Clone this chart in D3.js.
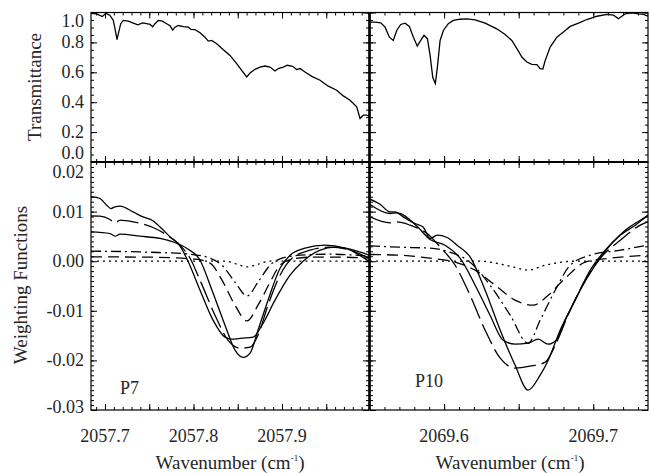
<!DOCTYPE html>
<html><head><meta charset="utf-8">
<script src="https://cdn.jsdelivr.net/npm/d3@7"></script>
<style>
body{margin:0;background:#fff}
svg text{font-family:"Liberation Serif","Times New Roman",Times,"DejaVu Serif",serif;fill:#262626}
</style></head>
<body>
<svg id="c" width="650" height="473"></svg>
<script>
// ---------------- DATA ----------------
const panelLabels = ["P7", "P10"];
const xTickLabelsL = [2057.7, 2057.8, 2057.9];
const xTickLabelsR = [2069.6, 2069.7];
const yTickLabelsT = [0.0, 0.2, 0.4, 0.6, 0.8, 1.0];
const yTickLabelsB = [-0.03, -0.02, -0.01, 0.00, 0.01, 0.02];

// Transmittance, P7
const transL_x = [2057.6842,2057.6906,2057.6970,2057.7011,2057.7057,2057.7094,2057.7117,2057.7136,2057.7155,2057.7178,2057.7207,2057.7263,2057.7320,2057.7370,2057.7426,2057.7471,2057.7509,2057.7539,2057.7565,2057.7602,2057.7648,2057.7697,2057.7735,2057.7765,2057.7791,2057.7828,2057.7885,2057.7941,2057.7972,2057.8017,2057.8074,2057.8130,2057.8167,2057.8206,2057.8262,2057.8337,2057.8413,2057.8488,2057.8545,2057.8601,2057.8639,2057.8695,2057.8752,2057.8808,2057.8865,2057.8921,2057.8958,2057.9015,2057.9060,2057.9121,2057.9166,2057.9204,2057.9260,2057.9336,2057.9430,2057.9523,2057.9618,2057.9693,2057.9769,2057.9844,2057.9882,2057.9919,2057.9957,2057.9983];
const transL_y = [0.995,0.991,0.973,0.995,0.980,0.947,0.880,0.818,0.869,0.925,0.947,0.942,0.929,0.918,0.931,0.925,0.920,0.905,0.925,0.947,0.942,0.925,0.911,0.882,0.902,0.913,0.905,0.902,0.887,0.885,0.865,0.835,0.809,0.813,0.791,0.751,0.713,0.658,0.613,0.569,0.595,0.620,0.635,0.642,0.635,0.609,0.625,0.635,0.647,0.640,0.618,0.625,0.602,0.573,0.547,0.507,0.480,0.442,0.413,0.369,0.291,0.313,0.313,0.307];

// Transmittance, P10
const transR_x = [2069.5503,2069.5537,2069.5575,2069.5604,2069.5633,2069.5659,2069.5682,2069.5709,2069.5738,2069.5767,2069.5794,2069.5820,2069.5843,2069.5865,2069.5888,2069.5906,2069.5924,2069.5941,2069.5955,2069.5973,2069.5995,2069.6028,2069.6062,2069.6107,2069.6152,2069.6208,2069.6275,2069.6353,2069.6409,2069.6454,2069.6488,2069.6521,2069.6555,2069.6588,2069.6622,2069.6644,2069.6662,2069.6678,2069.6711,2069.6756,2069.6800,2069.6845,2069.6901,2069.6957,2069.7025,2069.7092,2069.7136,2069.7169,2069.7214,2069.7259,2069.7304,2069.7337,2069.7367];
const transR_y = [0.935,0.935,0.931,0.902,0.835,0.813,0.880,0.920,0.929,0.907,0.835,0.775,0.813,0.847,0.825,0.713,0.565,0.525,0.635,0.813,0.880,0.925,0.947,0.955,0.958,0.951,0.929,0.891,0.853,0.813,0.758,0.702,0.669,0.653,0.651,0.625,0.622,0.680,0.769,0.835,0.869,0.907,0.929,0.953,0.975,0.987,0.982,0.958,0.991,0.998,0.991,0.987,0.975];

// Weighting functions, P7
const wL1_x = [2057.6842,2057.6944,2057.7019,2057.7068,2057.7113,2057.7170,2057.7317,2057.7430,2057.7531,2057.7622,2057.7735,2057.7848,2057.7938,2057.8074,2057.8221,2057.8356,2057.8435,2057.8548,2057.8673,2057.8774,2057.8921,2057.9091,2057.9238,2057.9430,2057.9599,2057.9769,2057.9983];
const wL1_y = [0.0130,0.01264,0.01129,0.01062,0.01095,0.01109,0.00994,0.00893,0.00827,0.00691,0.0049,0.00302,0,-0.00585,-0.01189,-0.01532,-0.01572,-0.01552,-0.01532,-0.0129,-0.00786,-0.00282,0,0.00222,0.00282,0.00242,0.00121];
const wL2_x = [2057.6842,2057.6944,2057.7057,2057.7113,2057.7170,2057.7317,2057.7543,2057.7701,2057.7848,2057.7961,2057.8074,2057.8243,2057.8390,2057.8526,2057.8639,2057.8729,2057.8842,2057.8978,2057.9113,2057.9317,2057.9543,2057.9769,2057.9983];
const wL2_y = [0.00913,0.00907,0.00841,0.00772,0.00827,0.00792,0.00679,0.00524,0.00323,0.0006,-0.00383,-0.01089,-0.01593,-0.01754,-0.01734,-0.01492,-0.00887,-0.00282,0.0006,0.00222,0.00282,0.00222,0.0006];
const wL3_x = [2057.6842,2057.7057,2057.7113,2057.7170,2057.7396,2057.7622,2057.7769,2057.7927,2057.8074,2057.8209,2057.8356,2057.8469,2057.8560,2057.8639,2057.8729,2057.8842,2057.8978,2057.9091,2057.9260,2057.9486,2057.9712,2057.9983];
const wL3_y = [0.00591,0.00558,0.00504,0.00544,0.00504,0.00458,0.00389,0.00256,0.0002,-0.00585,-0.0129,-0.01794,-0.01941,-0.01855,-0.01391,-0.00786,-0.00141,0.00121,0.00262,0.00323,0.00262,0];
const wL4_x = [2057.6842,2057.7509,2057.7961,2057.8187,2057.8322,2057.8469,2057.8605,2057.8729,2057.8865,2057.9000,2057.9204,2057.9543,2057.9983];
const wL4_y = [0.00202,0.00181,0.00141,0.0006,-0.00081,-0.00423,-0.0070,-0.00423,-0.00081,0.0006,0.00121,0.00141,0.00101];
const wL5_x = [2057.6842,2057.7509,2057.8017,2057.8187,2057.8322,2057.8469,2057.8605,2057.8729,2057.8865,2057.8978,2057.9113,2057.9317,2057.9656,2057.9983];
const wL5_y = [0.00087,0.00081,0.0004,-0.0004,-0.00383,-0.00887,-0.01204,-0.00887,-0.00423,-0.00081,0.0004,0.00081,0.00081,0.0006];
const wL6_x = [2057.6842,2057.8356,2057.8526,2057.8605,2057.8695,2057.8865,2057.9983];
const wL6_y = [0,0,-0.00081,-0.00115,-0.00081,0,0];

// Weighting functions, P10
const wR1_x = [2069.5503,2069.5570,2069.5637,2069.5671,2069.5725,2069.5805,2069.5859,2069.5906,2069.5953,2069.6020,2069.6087,2069.6174,2069.6275,2069.6376,2069.6476,2069.6563,2069.6644,2069.6698,2069.6778,2069.6879,2069.6980,2069.7080,2069.7181,2069.7282,2069.7367];
const wR1_y = [0.0125,0.01149,0.00994,0.00994,0.00893,0.0076,0.00691,0.00458,0.00524,0.00478,0.00323,0.00087,-0.00585,-0.01391,-0.02097,-0.026,-0.02298,-0.01996,-0.01391,-0.00786,-0.00181,0.00222,0.00524,0.00726,0.00927];
const wR2_x = [2069.5503,2069.5637,2069.5684,2069.5818,2069.5906,2069.6006,2069.6107,2069.6208,2069.6308,2069.6396,2069.6476,2069.6563,2069.6631,2069.6698,2069.6751,2069.6812,2069.6912,2069.7013,2069.7114,2069.7214,2069.7315,2069.7367];
const wR2_y = [0.01143,0.00962,0.00974,0.00706,0.00437,0.00323,0.0006,-0.00484,-0.01089,-0.01593,-0.01673,-0.01653,-0.01572,-0.01673,-0.01593,-0.01189,-0.00585,-0.00081,0.00323,0.00625,0.00827,0.00927];
const wR3_x = [2069.5503,2069.5637,2069.5684,2069.5772,2069.5886,2069.5973,2069.6074,2069.6174,2069.6275,2069.6376,2069.6476,2069.6577,2069.6678,2069.6745,2069.6845,2069.6946,2069.7047,2069.7181,2069.7315,2069.7367];
const wR3_y = [0.00893,0.00772,0.00792,0.00726,0.00558,0.00288,-0.00081,-0.00685,-0.01391,-0.01956,-0.02157,-0.02117,-0.02036,-0.01693,-0.00988,-0.00383,0.0006,0.00423,0.00726,0.00792];
const wR4_x = [2069.5503,2069.5704,2069.5906,2069.6040,2069.6174,2069.6308,2069.6443,2069.6563,2069.6644,2069.6745,2069.6845,2069.6980,2069.7181,2069.7367];
const wR4_y = [0.00308,0.00282,0.00262,0.00181,-0.0002,-0.00484,-0.01089,-0.01653,-0.01189,-0.00585,-0.00081,0.00121,0.00222,0.00323];
const wR5_x = [2069.5503,2069.5704,2069.5906,2069.6074,2069.6208,2069.6342,2069.6476,2069.6597,2069.6698,2069.6812,2069.6946,2069.7114,2069.7367];
const wR5_y = [0.00135,0.00121,0.0006,-0.0002,-0.00181,-0.00484,-0.00786,-0.00887,-0.00685,-0.00343,-0.0002,0.0006,0.00121];
const wR6_x = [2069.5503,2069.6241,2069.6443,2069.6563,2069.6678,2069.6879,2069.7367];
const wR6_y = [0,0,-0.00101,-0.00181,-0.00081,0,0];

// --------------- DRAWING ---------------
const svg = d3.select("#c");

const xL = d3.scaleLinear().domain([2057.6842, 2057.9983]).range([91, 369]);
const xR = d3.scaleLinear().domain([2069.5503, 2069.7367]).range([370, 648]);
const yT = d3.scaleLinear().domain([0, 1.0]).range([162, 12.5]);
const yB = d3.scaleLinear().domain([-0.03, 0.02]).range([410, 162]);

const styles = {
  solid: null,
  longdash: "22,6",
  dashdot: "10,4,2,4",
  dash: "11,6",
  dot: "2,4"
};

function zip(xs, ys) { return xs.map((x, i) => [x, ys[i]]); }

function drawLine(g, xs, ys, xS, yS, dash, curve) {
  const line = d3.line().x(d => xS(d[0])).y(d => yS(d[1])).curve(curve || d3.curveMonotoneX);
  g.append("path").datum(zip(xs, ys))
    .attr("d", line).attr("fill", "none").attr("stroke", "#000")
    .attr("stroke-width", 1.3).attr("stroke-dasharray", dash);
}

const clipDefs = svg.append("defs");
function clip(id, x0, y0, x1, y1) {
  clipDefs.append("clipPath").attr("id", id).append("rect")
    .attr("x", x0).attr("y", y0).attr("width", x1 - x0).attr("height", y1 - y0);
  return svg.append("g").attr("clip-path", `url(#${id})`);
}

const gTL = clip("ctl", 91, 12.5, 369, 162);
const gTR = clip("ctr", 370, 12.5, 648, 162);
const gBL = clip("cbl", 91, 162, 369, 410);
const gBR = clip("cbr", 370, 162, 648, 410);

drawLine(gTL, transL_x, transL_y, xL, yT, null, d3.curveLinear);
drawLine(gTR, transR_x, transR_y, xR, yT, null, d3.curveLinear);

const wL = [[wL1_x, wL1_y, "solid"], [wL2_x, wL2_y, "longdash"], [wL3_x, wL3_y, "solid"], [wL4_x, wL4_y, "dashdot"], [wL5_x, wL5_y, "dash"], [wL6_x, wL6_y, "dot"]];
const wR = [[wR1_x, wR1_y, "solid"], [wR2_x, wR2_y, "solid"], [wR3_x, wR3_y, "longdash"], [wR4_x, wR4_y, "dashdot"], [wR5_x, wR5_y, "dash"], [wR6_x, wR6_y, "dot"]];
wL.forEach(s => drawLine(gBL, s[0], s[1], xL, yB, styles[s[2]]));
wR.forEach(s => drawLine(gBR, s[0], s[1], xR, yB, styles[s[2]]));

// axes (ticks inward on all sides)
function rng(a, b, step) { const out = []; for (let v = a; v <= b + step * 1e-6; v += step) out.push(+v.toFixed(6)); return out; }

function frameAxes(xS, yS, xMajor, xMinor, yMajor, yMinor) {
  const [x0, x1] = xS.range(); const [y0, y1] = yS.range();
  const g = svg.append("g");
  const ax = (axis, tx, ty) => {
    const a = g.append("g").attr("transform", `translate(${tx},${ty})`).call(axis);
    a.selectAll("text").remove(); a.select(".domain").remove();
    a.selectAll("line").attr("stroke", "#000").attr("stroke-width", 1);
  };
  const mk = (fn, s, vals, size) => fn(s).tickValues(vals).tickSize(size).tickSizeOuter(0);
  ax(mk(d3.axisBottom, xS, xMajor, -6), 0, y0); ax(mk(d3.axisBottom, xS, xMinor, -3), 0, y0);
  ax(mk(d3.axisTop, xS, xMajor, -6), 0, y1); ax(mk(d3.axisTop, xS, xMinor, -3), 0, y1);
  ax(mk(d3.axisLeft, yS, yMajor, -6), x0, 0); ax(mk(d3.axisLeft, yS, yMinor, -3), x0, 0);
  ax(mk(d3.axisRight, yS, yMajor, -6), x1, 0); ax(mk(d3.axisRight, yS, yMinor, -3), x1, 0);
  g.append("rect").attr("x", x0).attr("y", y1).attr("width", x1 - x0).attr("height", y0 - y1)
    .attr("fill", "none").attr("stroke", "#000").attr("stroke-width", 1.2);
}

const xLmaj = rng(2057.70, 2057.95, 0.05), xLmin = rng(2057.69, 2057.99, 0.01);
const xRmaj = rng(2069.60, 2069.70, 0.05), xRmin = rng(2069.56, 2069.73, 0.01);
const yTmaj = rng(0, 1.0, 0.2), yTmin = rng(0, 1.0, 0.05);
const yBmaj = rng(-0.03, 0.02, 0.01), yBmin = rng(-0.03, 0.02, 0.001);

frameAxes(xL, yT, xLmaj, xLmin, yTmaj, yTmin);
frameAxes(xR, yT, xRmaj, xRmin, yTmaj, yTmin);
frameAxes(xL, yB, xLmaj, xLmin, yBmaj, yBmin);
frameAxes(xR, yB, xRmaj, xRmin, yBmaj, yBmin);

svg.append("line").attr("x1", 91).attr("x2", 648).attr("y1", 162).attr("y2", 162).attr("stroke", "#000").attr("stroke-width", 2.2);
svg.append("line").attr("x1", 369.5).attr("x2", 369.5).attr("y1", 12.5).attr("y2", 410).attr("stroke", "#000").attr("stroke-width", 2.2);

// text helpers
const txt = (x, y, s, anchor, size) => svg.append("text").attr("x", x).attr("y", y).text(s)
  .attr("text-anchor", anchor || "end").attr("font-size", size || 18);

yTickLabelsT.forEach(v => {
  let dy = 6; if (v === 1.0) dy = 14; if (v === 0) dy = -3;
  txt(84, yT(v) + dy, v.toFixed(1));
});
yTickLabelsB.forEach(v => {
  let dy = 6; if (v === 0.02) dy = 16; if (v === -0.03) dy = 3;
  txt(84, yB(v) + dy, v.toFixed(2));
});
xTickLabelsL.forEach(v => txt(xL(v), 442, v.toFixed(1), "middle"));
xTickLabelsR.forEach(v => txt(xR(v), 442, v.toFixed(1), "middle"));

function xTitle(cx) {
  const t = svg.append("text").attr("x", cx).attr("y", 469).attr("text-anchor", "middle").attr("font-size", 19);
  t.append("tspan").text("Wavenumber (cm");
  t.append("tspan").text("-1").attr("font-size", 9).attr("dy", -8);
  t.append("tspan").text(")").attr("dy", 8);
}
xTitle(230); xTitle(510);

svg.append("text").attr("transform", "translate(41,87) rotate(-90)").attr("text-anchor", "middle")
  .attr("font-size", 19).text("Transmittance");
svg.append("text").attr("transform", "translate(27,285) rotate(-90)").attr("text-anchor", "middle")
  .attr("font-size", 19).text("Weighting Functions");

txt(120, 394, panelLabels[0], "start", 18);
txt(415, 387, panelLabels[1], "start", 18);
</script>
</body></html>
